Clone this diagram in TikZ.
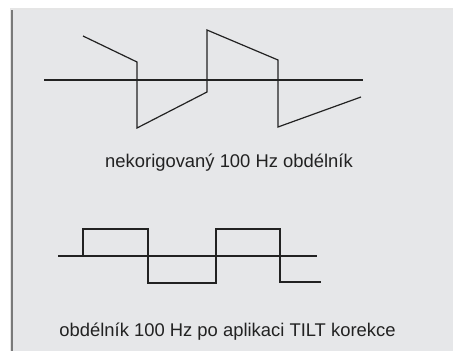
\documentclass[tikz,border=0pt]{standalone}
\usepackage{fontspec}
\setmainfont{Liberation Sans}
\definecolor{panel}{HTML}{E6E7E9}
\definecolor{ink}{HTML}{222222}
\definecolor{edge}{HTML}{7A7A7A}
\begin{document}
\begin{tikzpicture}[x=1pt,y=-1pt,
  wave/.style={draw=ink,line width=1.2pt,line join=miter},
  axis/.style={draw=ink,line width=1.2pt},
  caption/.style={text=ink,font=\fontsize{18.4}{22}\selectfont,inner sep=0pt,anchor=base}]
\useasboundingbox (0,0) rectangle (453,351);
\fill[white] (0,0) rectangle (453,351);
% shadow
\fill[black!10] (10,8) rectangle (453,351);
\fill[panel] (13,10) rectangle (453,351);
\draw[edge,line width=2pt] (12,10) -- (12,351);
% top waveform
\draw[axis] (44,80) -- (363,80);
\draw[wave] (83,36) -- (137,62) -- (137,128) -- (207,92) -- (207,30) -- (278,60) -- (278,127) -- (361,97);
\node[caption] (t1) at (229,167) {nekorigovaný 100 Hz obdélník};
% bottom waveform
\draw[axis] (58,256) -- (317,256);
\draw[wave] (83,256) -- (83,229) -- (148,229) -- (148,283) -- (216,283) -- (216,229) -- (280,229) -- (280,282) -- (321,282);
\node[caption] (t2) at (227.5,336) {obdélník 100 Hz po aplikaci TILT korekce};
\end{tikzpicture}
\end{document}
